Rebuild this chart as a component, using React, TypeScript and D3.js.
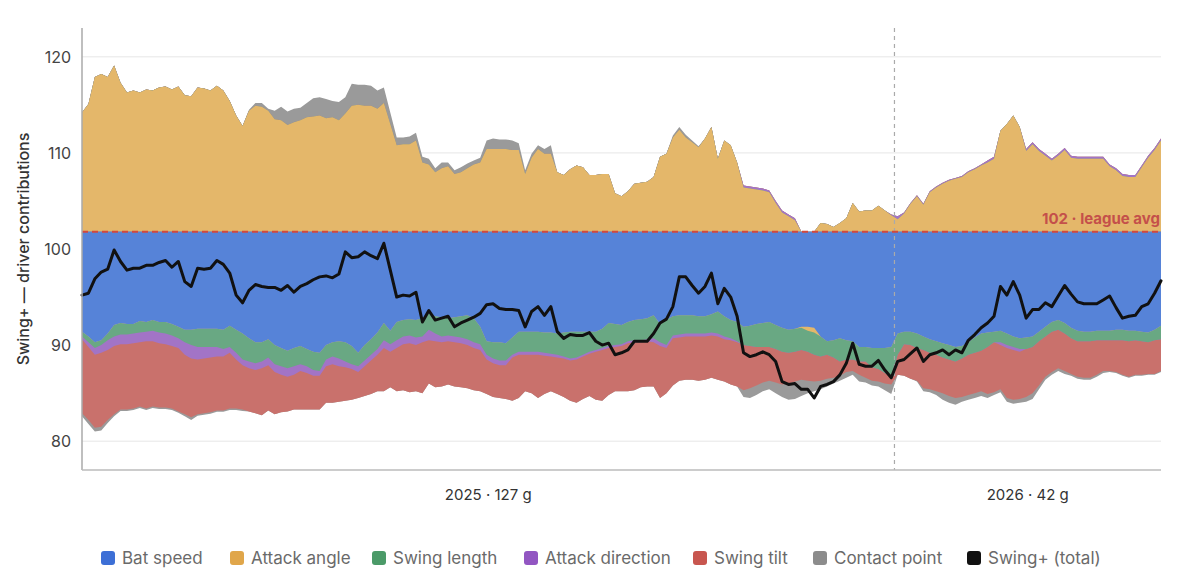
import * as d3 from "d3";

// League reference and season split
const leagueAvg = 101.8;
const seasonNames = ["2025", "2026"];
const seasonGames = [127, 42];
const yTicks = [80, 90, 100, 110, 120];

const driverNames = ["Bat speed", "Attack angle", "Swing length", "Attack direction", "Swing tilt", "Contact point"];
const totalName = "Swing+ (total)";

// Per-game driver contributions (points above / below league average)
const batSpeed = [
  -10.4, -10.9, -11.5, -11.3, -10.6, -9.7, -9.5, -9.6, -9.6, -9.3,
  -9.4, -9.2, -9.4, -9.4, -9.6, -9.9, -10.2, -10.2, -10.1, -10.1,
  -10.1, -10.1, -10.2, -9.8, -10.2, -10.6, -11.1, -11.5, -11.5, -11.2,
  -11.8, -12.1, -12.4, -12.1, -11.9, -12.2, -12.5, -12.6, -11.8, -11.5,
  -11.4, -11.5, -11.9, -12.6, -11.8, -11.2, -10.5, -9.5, -10.3, -9.4,
  -9.2, -9.1, -9.2, -9.0, -8.5, -8.8, -8.9, -9.0, -8.9, -8.8,
  -8.7, -9.0, -9.9, -11.4, -11.5, -11.5, -11.6, -11.0, -10.4, -10.4,
  -10.4, -10.4, -10.5, -10.5, -10.6, -10.5, -10.4, -10.4, -10.4, -10.4,
  -10.4, -10.1, -9.5, -9.6, -9.7, -9.4, -9.2, -9.1, -9.0, -8.7,
  -9.6, -9.2, -8.8, -8.7, -8.7, -8.7, -8.8, -8.8, -8.6, -8.3,
  -8.8, -9.2, -9.4, -9.9, -9.8, -9.6, -9.5, -9.4, -9.7, -10.0,
  -10.2, -10.1, -9.9, -9.9, -10.0, -10.9, -11.4, -11.3, -11.1, -11.3,
  -11.4, -12.0, -12.0, -12.1, -12.1, -12.1, -12.0, -10.6, -10.4, -10.4,
  -10.6, -10.9, -11.2, -11.4, -11.6, -11.8, -12.0, -11.9, -11.5, -11.0,
  -10.6, -10.5, -10.4, -10.3, -10.6, -10.9, -11.1, -11.0, -10.9, -10.4,
  -9.9, -9.4, -9.2, -9.5, -10.0, -10.3, -10.4, -10.4, -10.3, -10.3,
  -10.3, -10.2, -10.2, -10.3, -10.3, -10.4, -10.5, -10.2, -9.8,
];

const attackAngle = [
  12.4, 13.3, 16.1, 16.4, 16.1, 17.3, 15.5, 14.5, 14.7, 14.5,
  14.8, 14.7, 15.0, 15.1, 14.8, 15.1, 14.2, 14.1, 15.0, 14.9,
  14.7, 15.2, 14.7, 13.6, 12.1, 11.0, 12.6, 13.1, 13.0, 12.6,
  11.7, 11.6, 11.1, 11.4, 11.6, 11.9, 12.0, 12.1, 11.8, 11.9,
  11.6, 12.3, 13.1, 13.2, 13.1, 13.1, 12.8, 13.4, 11.2, 9.0,
  9.1, 9.1, 9.5, 7.2, 7.0, 6.2, 6.6, 6.8, 6.0, 6.2,
  6.6, 7.0, 7.2, 8.6, 8.6, 8.6, 8.6, 8.5, 8.5, 6.0,
  7.7, 8.6, 8.1, 8.1, 6.2, 5.9, 6.5, 6.9, 6.7, 5.9,
  5.9, 6.0, 6.0, 4.0, 3.7, 4.2, 5.0, 5.1, 5.2, 5.7,
  7.8, 8.1, 9.8, 10.6, 9.8, 9.3, 8.8, 9.7, 10.9, 7.6,
  9.5, 9.0, 7.2, 4.6, 4.5, 4.4, 4.3, 4.1, 3.0, 2.0,
  1.6, 1.2, -0.1, -0.4, -0.5, 0.9, 0.8, 0.5, 0.9, 1.4,
  3.0, 2.1, 2.2, 2.2, 2.7, 2.2, 1.7, 1.3, 1.9, 2.9,
  3.7, 2.8, 4.1, 4.6, 5.0, 5.3, 5.5, 5.7, 6.2, 6.5,
  6.9, 7.2, 7.6, 10.5, 11.2, 12.1, 10.9, 8.4, 9.1, 8.4,
  7.9, 7.4, 7.9, 8.5, 7.7, 7.6, 7.6, 7.6, 7.6, 7.6,
  6.8, 6.4, 5.8, 5.7, 5.7, 6.7, 7.7, 8.5, 9.5,
];

const swingLength = [
  -0.5, -0.6, -0.6, -0.5, -0.7, -1.2, -1.2, -1.1, -1.0, -1.2,
  -1.0, -1.1, -1.1, -1.2, -1.2, -1.2, -1.3, -1.6, -1.9, -1.9,
  -1.9, -1.9, -2.0, -2.2, -2.4, -2.7, -2.4, -2.2, -2.0, -1.9,
  -2.0, -1.9, -1.8, -1.9, -1.9, -1.8, -1.9, -1.9, -1.5, -1.5,
  -1.8, -2.0, -1.9, -1.4, -1.6, -1.6, -1.7, -1.8, -1.4, -1.9,
  -1.7, -1.7, -1.8, -1.9, -1.7, -1.8, -2.0, -1.8, -2.0, -2.2,
  -2.5, -2.5, -1.8, -1.4, -1.7, -1.9, -1.8, -1.8, -2.1, -2.1,
  -2.1, -2.1, -2.1, -2.2, -2.2, -2.5, -2.8, -2.7, -2.4, -2.1,
  -1.9, -2.0, -2.4, -2.2, -2.0, -2.0, -2.1, -2.2, -2.2, -2.4,
  -1.9, -2.6, -2.0, -2.0, -1.9, -1.9, -1.8, -1.8, -1.9, -2.3,
  -2.1, -1.9, -2.0, -1.9, -2.1, -2.4, -2.5, -2.6, -2.5, -2.5,
  -2.4, -2.4, -2.3, -2.2, -2.3, -2.1, -1.4, -1.8, -2.4, -2.0,
  -1.9, -1.5, -1.5, -2.0, -2.2, -2.6, -3.1, -2.2, -1.3, -1.4,
  -1.5, -1.4, -1.4, -1.4, -1.5, -1.5, -1.5, -1.3, -1.3, -1.6,
  -1.8, -1.5, -1.1, -1.2, -1.2, -1.1, -1.1, -1.2, -1.1, -1.0,
  -1.0, -1.0, -1.0, -1.1, -1.1, -1.1, -1.0, -1.0, -1.0, -1.0,
  -1.0, -1.1, -1.1, -1.1, -1.0, -1.0, -1.0, -1.1, -1.4,
];

const attackDirection = [
  -0.3, -0.5, -0.7, -0.8, -1.0, -1.0, -1.0, -1.0, -1.0, -1.0,
  -1.0, -1.1, -1.1, -1.1, -1.1, -1.0, -1.3, -1.4, -1.3, -1.2,
  -1.1, -1.0, -0.8, -0.6, -0.7, -0.6, -0.7, -0.7, -0.7, -0.8,
  -0.8, -0.9, -0.9, -0.9, -0.7, -0.7, -0.6, -0.5, -0.7, -0.8,
  -0.8, -0.6, -0.5, -0.6, -0.6, -0.6, -0.6, -0.8, -0.8, -0.8,
  -0.8, -0.8, -0.8, -0.6, -1.1, -0.8, -0.6, -0.6, -0.6, -0.6,
  -0.6, -0.6, -0.6, -0.5, -0.5, -0.5, -0.5, -0.3, -0.3, -0.3,
  -0.3, -0.3, -0.3, -0.3, -0.3, -0.2, -0.2, -0.2, -0.2, -0.2,
  -0.2, -0.2, -0.2, -0.2, -0.2, -0.2, -0.2, -0.2, -0.2, -0.4,
  -0.4, -0.3, -0.3, -0.3, -0.3, -0.3, -0.3, -0.3, -0.3, -0.3,
  -0.3, -0.2, -0.1, 0.2, 0.2, 0.2, 0.2, 0.2, 0.2, 0.2,
  0.2, 0.2, 0, 0, 0, 0, 0, 0, 0, 0,
  0, 0, 0, 0, 0, 0, 0.1, 0.3, 0.1, 0.1,
  0.1, 0.1, 0.1, 0.1, 0.1, 0.1, 0.1, 0.1, 0.1, 0.1,
  0.1, 0.2, 0.2, -0.3, -0.3, -0.3, -0.3, 0.2, 0.2, 0.2,
  0.2, 0.2, 0.2, 0.2, 0.2, 0.2, 0.2, 0.2, 0.2, 0.2,
  0.2, 0.2, 0.2, 0.2, 0.2, 0.2, 0.2, 0.2, 0.2,
];

const swingTilt = [
  -7.7, -7.6, -7.6, -7.7, -7.3, -7.1, -6.8, -6.8, -6.8, -6.7,
  -7.0, -6.8, -6.7, -6.6, -6.5, -6.6, -6.2, -6.1, -5.7, -5.7,
  -5.7, -5.6, -5.6, -5.8, -5.1, -4.6, -4.5, -4.5, -4.9, -4.7,
  -4.4, -3.9, -3.6, -3.6, -4.0, -3.8, -3.5, -3.5, -3.8, -4.0,
  -3.7, -3.5, -3.2, -2.7, -3.1, -3.5, -3.8, -4.5, -3.7, -4.5,
  -4.8, -5.1, -4.8, -5.3, -4.5, -4.8, -4.6, -4.5, -4.6, -4.6,
  -4.5, -4.4, -4.3, -3.6, -3.5, -3.4, -3.5, -4.5, -4.5, -3.8,
  -4.0, -4.5, -4.0, -3.6, -3.8, -4.0, -4.2, -4.5, -4.4, -4.4,
  -5.0, -5.3, -4.9, -4.6, -4.7, -5.0, -5.0, -4.7, -4.7, -4.6,
  -5.4, -4.7, -4.9, -4.5, -4.5, -4.5, -4.6, -4.5, -4.4, -4.5,
  -4.4, -4.6, -4.6, -4.7, -4.4, -4.0, -3.7, -3.5, -3.5, -3.4,
  -3.2, -3.1, -3.1, -3.0, -2.8, -2.5, -2.5, -2.1, -1.5, -1.3,
  -1.2, -1.4, -1.7, -1.4, -1.3, -1.1, -0.8, -2.1, -3.3, -3.5,
  -3.4, -4.0, -3.8, -3.8, -3.7, -3.8, -3.8, -4.0, -4.2, -4.2,
  -4.2, -4.9, -5.2, -4.6, -5.2, -5.2, -4.9, -5.0, -4.8, -4.6,
  -4.2, -4.2, -4.0, -3.9, -3.7, -3.7, -3.8, -3.8, -3.6, -3.2,
  -3.2, -3.3, -3.6, -3.7, -3.6, -3.5, -3.3, -3.5, -3.3,
];

const contactPoint = [
  -0.3, -0.4, -0.4, -0.4, -0.3, -0.2, -0.15, -0.15, -0.15, -0.15,
  -0.15, -0.15, -0.15, -0.15, -0.15, -0.15, -0.2, -0.3, -0.15, -0.15,
  -0.15, -0.15, -0.15, -0.15, -0.15, -0.15, 0.1, 0.3, 0.4, 0.2,
  0.9, 1.4, 1.4, 1.4, 1.3, 1.5, 1.9, 1.9, 2.0, 1.7,
  1.9, 1.7, 2.3, 2.1, 2.2, 2.1, 1.9, 1.6, 1.2, 0.8,
  0.7, 0.8, 0.8, 0.6, 0.6, 0.4, 0.6, 0.4, 0.4, 0.5,
  0.5, 0.4, 0.5, 0.9, 1.1, 1.0, 1.0, 1.0, 0.7, 0.4,
  0.4, 0.4, 0.5, 0.9, 0, 0, 0, 0, 0, 0,
  0, 0, 0, 0, 0, 0, 0, 0, 0, 0,
  0, 0, 0.2, 0.3, 0.3, 0.2, 0.1, 0, 0, 0,
  0, 0, 0, -0.7, -1.0, -1.0, -0.9, -0.9, -1.1, -1.3,
  -1.7, -1.8, -1.7, -1.3, -1.0, -0.9, -0.8, -0.6, -0.5, -0.6,
  -0.4, -0.7, -0.5, -0.5, -0.5, -0.7, -1.0, 0, 0, 0,
  -0.1, -0.3, -0.3, -0.4, -0.7, -0.7, -0.7, -0.5, -0.5, -0.5,
  -0.5, -0.4, -0.3, -0.3, -0.4, -0.4, -0.4, -0.5, -0.6, -0.4,
  -0.3, -0.3, -0.3, -0.3, -0.2, -0.2, -0.2, -0.2, -0.2, -0.2,
  -0.1, -0.1, -0.1, -0.1, -0.1, -0.1, -0.1, -0.1, -0.1,
];

// Swing+ per game (the black line)
const swingTotal = [
  95.2, 95.4, 96.9, 97.6, 97.9, 99.9, 98.7, 97.8, 98.0, 98.0,
  98.3, 98.3, 98.6, 98.8, 98.1, 98.7, 96.6, 96.1, 98.0, 97.9,
  98.0, 98.8, 98.4, 97.5, 95.2, 94.4, 95.7, 96.3, 96.1, 96.0,
  96.0, 95.7, 96.2, 95.5, 96.1, 96.4, 96.8, 97.1, 97.2, 97.0,
  97.4, 99.7, 99.1, 99.2, 99.7, 99.3, 99.0, 100.6, 97.8, 95.0,
  95.2, 95.1, 95.5, 92.4, 93.6, 92.6, 92.8, 93.0, 91.9, 92.3,
  92.6, 92.9, 93.3, 94.2, 94.3, 93.8, 93.7, 93.7, 93.6, 91.9,
  93.5, 94.0, 93.1, 94.0, 91.4, 90.7, 91.1, 91.0, 91.0, 91.3,
  90.4, 90.0, 90.2, 89.0, 89.2, 89.5, 90.4, 90.4, 90.4, 91.2,
  92.3, 92.7, 94.0, 97.1, 97.1, 96.2, 95.4, 96.1, 97.5, 94.3,
  95.9, 95.0, 93.0, 89.2, 88.8, 89.0, 89.3, 89.0, 88.3, 86.2,
  85.9, 86.0, 85.4, 85.4, 84.5, 85.7, 85.9, 86.2, 86.9, 88.1,
  90.2, 88.0, 87.8, 87.8, 88.4, 87.4, 86.6, 88.3, 88.5, 89.1,
  89.7, 88.3, 89.0, 89.2, 89.5, 89.0, 89.5, 89.2, 90.5, 91.1,
  91.8, 92.3, 93.0, 96.1, 95.2, 96.6, 95.2, 92.8, 93.7, 93.7,
  94.4, 94.0, 95.1, 96.2, 95.3, 94.5, 94.3, 94.3, 94.3, 94.7,
  95.1, 93.9, 92.8, 93.0, 93.1, 94.0, 94.3, 95.4, 96.7,
];

const areaFills = ["#5683d8", "#e4b76a", "#69a883", "#a274c6", "#c9716c", "#9a9a9a"];
const swatchFills = ["#3d6fd6", "#e0a64a", "#4b9a68", "#9256c2", "#c8564f", "#8c8c8c", "#111111"];
const legendLeft = [101, 230, 372, 524, 693, 813, 967];

const font = "Inter, 'Noto Sans', 'DejaVu Sans', sans-serif";

export default function App() {
  const width = 1200;
  const height = 575;
  const plot = { left: 82, right: 1161, top: 28, bottom: 470 };

  const n = swingTotal.length;
  const x = d3.scaleLinear().domain([0, n - 1]).range([plot.left, plot.right]);
  const y = d3.scaleLinear().domain([77, 123]).range([plot.bottom, plot.top]);

  const drivers = [batSpeed, attackAngle, swingLength, attackDirection, swingTilt, contactPoint];

  // diverging stack: running totals above and below league average, per driver
  const upper = drivers.map(() => [] as number[]);
  const lower = drivers.map(() => [] as number[]);
  for (let i = 0; i < n; i++) {
    let up = 0;
    let down = 0;
    drivers.forEach((vals, k) => {
      up += Math.max(vals[i], 0);
      down += Math.min(vals[i], 0);
      upper[k].push(up);
      lower[k].push(down);
    });
  }

  // each band is filled from the baseline out, outermost first, so no seams show
  const band = d3
    .area<number>()
    .x((_, i) => x(i))
    .y0(y(leagueAvg))
    .y1((d) => y(leagueAvg + d));

  const line = d3
    .line<number>()
    .x((_, i) => x(i))
    .y((d) => y(d));

  const split = seasonGames[0] - 0.5;
  const seasonCenters = [(x(0) + x(split)) / 2, (x(split) + x(n - 1)) / 2];
  const order = d3.range(drivers.length).reverse();

  return (
    <div style={{ position: "absolute", left: 0, top: 0, width, height, background: "#fff" }}>
      <svg width={width} height={height} style={{ display: "block", fontFamily: font }}>
        {yTicks.map((t) => (
          <g key={t}>
            <line x1={plot.left} x2={plot.right} y1={y(t)} y2={y(t)} stroke="#e6e6e6" strokeWidth={1} />
            <text x={71} y={y(t)} textAnchor="end" dominantBaseline="central" fontSize={16} fill="#444">
              {t}
            </text>
          </g>
        ))}

        {order.map((k) => (
          <path key={`up-${k}`} d={band(upper[k]) ?? ""} fill={areaFills[k]} />
        ))}
        {order.map((k) => (
          <path key={`dn-${k}`} d={band(lower[k]) ?? ""} fill={areaFills[k]} />
        ))}

        <line
          x1={x(split)}
          x2={x(split)}
          y1={plot.top}
          y2={plot.bottom}
          stroke="#aaa"
          strokeWidth={1.2}
          strokeDasharray="4 4"
        />

        <line
          x1={plot.left}
          x2={plot.right}
          y1={y(leagueAvg)}
          y2={y(leagueAvg)}
          stroke="#d5483c"
          strokeWidth={2}
          strokeDasharray="6 4"
        />
        <text
          x={plot.right - 1}
          y={y(leagueAvg) - 8}
          textAnchor="end"
          fontSize={15}
          fontWeight={700}
          fill="#c4504a"
        >
          {`${Math.round(leagueAvg)} · league avg`}
        </text>

        <path
          d={line(swingTotal) ?? ""}
          fill="none"
          stroke="#111"
          strokeWidth={3}
          strokeLinejoin="round"
          strokeLinecap="round"
        />

        <line x1={plot.left} x2={plot.left} y1={plot.top} y2={plot.bottom} stroke="#aaa" strokeWidth={1.5} />
        <line x1={plot.left} x2={plot.right} y1={plot.bottom} y2={plot.bottom} stroke="#bbb" strokeWidth={1.5} />

        {seasonNames.map((s, k) => (
          <text
            key={s}
            x={seasonCenters[k]}
            y={494}
            textAnchor="middle"
            dominantBaseline="central"
            fontSize={15}
            fill="#333"
          >
            {`${s} · ${seasonGames[k]} g`}
          </text>
        ))}

        <text
          transform="translate(23,249) rotate(-90)"
          textAnchor="middle"
          dominantBaseline="central"
          fontSize={16}
          fontWeight={500}
          fill="#333"
        >
          Swing+ — driver contributions
        </text>

        {[...driverNames, totalName].map((name, k) => (
          <g key={name} transform={`translate(${legendLeft[k]},558)`}>
            <rect x={0} y={-7} width={14} height={14} rx={3} fill={swatchFills[k]} />
            <text x={21} y={0} dominantBaseline="central" fontSize={17} fill="#6a6a6a">
              {name}
            </text>
          </g>
        ))}
      </svg>
    </div>
  );
}
